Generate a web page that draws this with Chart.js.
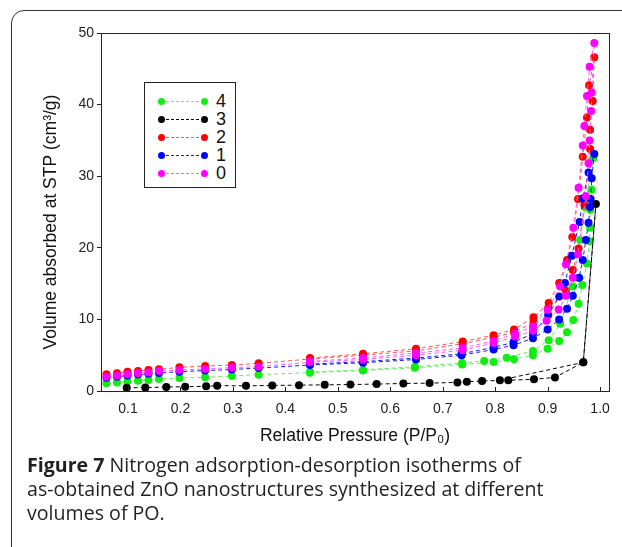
<!DOCTYPE html>
<html>
<head>
<meta charset="utf-8">
<script src="https://cdn.jsdelivr.net/npm/chart.js@4.4.1/dist/chart.umd.min.js"></script>
<style>
  html, body { margin: 0; padding: 0; background: #fff; }
  body { width: 622px; height: 547px; position: relative; overflow: hidden; }
  #frame {
    position: absolute; left: 11px; top: 10px; width: 700px; height: 600px;
    border: 1.5px solid #333; border-radius: 13px; box-sizing: border-box;
  }
  #wrap { position: absolute; left: 0; top: 0; width: 622px; height: 460px; }
  #legend {
    position: absolute; left: 144px; top: 82px; width: 92px; height: 106px;
    border: 1px solid #222; background: #fff; box-sizing: border-box;
    font-family: "Liberation Sans", Arial, sans-serif; font-size: 18px; color: #111;
  }
  .row { position: absolute; left: 0; height: 18px; width: 100%; }
  .dot { position: absolute; top: 6px; width: 7px; height: 7px; border-radius: 50%; }
  .dash { position: absolute; top: 9px; left: 21px; width: 38px; height: 0; border-top: 1px dashed; }
  .lab { position: absolute; left: 71px; top: -1px; line-height: 20px; }
  #caption {
    position: absolute; left: 27px; top: 453px; width: 590px; white-space: nowrap;
    font-family: "Open Sans", "Noto Sans", sans-serif; font-size: 19.6px; line-height: 24px;
    color: #231f20;
  }
  #caption b { font-weight: 700; }
</style>
</head>
<body>
<div id="frame"></div>
<div id="wrap"><canvas id="chart"></canvas></div>
<div id="legend"></div>
<div id="caption"><b>Figure 7</b> Nitrogen adsorption-desorption isotherms of<br>as-obtained ZnO nanostructures synthesized at different<br>volumes of PO.</div>
<script>
/* sample labels (volume of PO) and colours */
const SERIES_NAMES = ['4', '3', '2', '1', '0'];
const DOT_COLORS  = ['#10ee10', '#000000', '#ff0000', '#0000ff', '#ff00ff'];
const LINE_COLORS = ['#66ee66', '#000000', '#ff5555', '#1a1aff', '#ff5cff'];

/* ── data: adsorption branch then desorption branch ─────────── */

// sample 4 (green)
const x4 = [0.059, 0.079, 0.099, 0.119, 0.139, 0.159, 0.198, 0.247, 0.298, 0.349, 0.447, 0.548, 0.647, 0.737, 0.797, 0.836, 0.872, 0.900, 0.922, 0.937, 0.949, 0.959, 0.966, 0.975, 0.980, 0.981, 0.981, 0.984, 0.987,
            0.971, 0.962, 0.948, 0.924, 0.902, 0.872, 0.822, 0.779, 0.737, 0.647, 0.548, 0.447];
const y4 = [1.07, 1.2, 1.35, 1.44, 1.54, 1.68, 1.82, 1.91, 2.09, 2.28, 2.56, 2.85, 3.25, 3.7, 4.05, 4.45, 5.0, 5.9, 7.0, 8.2, 9.9, 12.2, 14.8, 17.8, 20.9, 22.8, 25.3, 28.1, 32.5,
            25.7, 21.1, 14.6, 9.4, 7.1, 5.6, 4.66, 4.19, 3.9, 3.4, 2.95, 2.65];

// sample 3 (black)
const x3 = [0.0975, 0.133, 0.173, 0.209, 0.249, 0.270, 0.325, 0.375, 0.426, 0.475, 0.524, 0.574, 0.625, 0.675, 0.728, 0.746, 0.775, 0.825, 0.874, 0.914, 0.968, 0.992,
            0.968, 0.809];
const y3 = [0.45, 0.48, 0.55, 0.6, 0.65, 0.75, 0.72, 0.78, 0.82, 0.86, 0.9, 0.97, 1.05, 1.1, 1.2, 1.3, 1.4, 1.5, 1.63, 1.9, 4.0, 26.1,
            4.0, 1.5];

// sample 2 (red)
const x2 = [0.059, 0.079, 0.099, 0.119, 0.139, 0.159, 0.198, 0.247, 0.298, 0.349, 0.447, 0.548, 0.649, 0.738, 0.797, 0.836, 0.873, 0.901, 0.935, 0.948, 0.959, 0.970, 0.981, 0.981, 0.986, 0.989,
            0.979, 0.975, 0.967, 0.958, 0.947, 0.937, 0.922, 0.902, 0.873, 0.836, 0.797, 0.738, 0.649, 0.548, 0.447];
const y2 = [2.33, 2.47, 2.7, 2.79, 2.93, 3.03, 3.3, 3.49, 3.63, 3.86, 4.47, 5.0, 5.6, 6.6, 7.5, 8.2, 9.6, 11.6, 14.0, 16.9, 19.9, 26.0, 33.8, 36.5, 40.5, 46.6,
            42.7, 38.2, 32.7, 26.8, 21.5, 18.3, 15.1, 12.3, 10.3, 8.6, 7.8, 6.9, 5.9, 5.2, 4.6];

// sample 1 (blue)
const x1 = [0.059, 0.079, 0.099, 0.119, 0.139, 0.159, 0.198, 0.247, 0.298, 0.349, 0.447, 0.548, 0.649, 0.736, 0.797, 0.835, 0.872, 0.900, 0.922, 0.937, 0.948, 0.960, 0.967, 0.973, 0.978, 0.981, 0.982, 0.984, 0.989,
            0.978, 0.967, 0.961, 0.946, 0.933, 0.922, 0.901, 0.872, 0.835, 0.797, 0.736, 0.649, 0.548, 0.447];
const y1 = [1.86, 2.0, 2.15, 2.3, 2.4, 2.5, 2.7, 2.85, 3.0, 3.2, 3.63, 3.95, 4.4, 5.0, 5.8, 6.4, 7.36, 8.6, 10.0, 11.5, 13.3, 15.8, 18.3, 21.1, 23.5, 25.7, 26.8, 29.7, 33.1,
            30.5, 26.9, 23.6, 18.9, 15.1, 13.2, 10.6, 8.0, 6.8, 6.1, 5.2, 4.6, 4.1, 3.75];

// sample 0 (magenta)
const x0 = [0.059, 0.079, 0.099, 0.119, 0.139, 0.159, 0.198, 0.247, 0.298, 0.349, 0.447, 0.548, 0.649, 0.738, 0.797, 0.838, 0.872, 0.898, 0.921, 0.935, 0.948, 0.958, 0.973, 0.978, 0.980, 0.983, 0.984, 0.989,
            0.980, 0.975, 0.970, 0.967, 0.959, 0.949, 0.935, 0.924, 0.900, 0.872, 0.838, 0.797, 0.738, 0.649, 0.548, 0.447];
const y0 = [2.0, 2.14, 2.33, 2.47, 2.6, 2.79, 2.93, 3.07, 3.26, 3.4, 4.0, 4.4, 5.0, 5.7, 6.7, 7.6, 8.4, 9.8, 11.4, 13.3, 15.8, 19.1, 27.2, 31.8, 35.0, 39.1, 41.7, 48.6,
            45.3, 41.2, 37.0, 34.3, 28.4, 22.8, 17.7, 14.6, 11.3, 9.0, 8.0, 7.0, 6.0, 5.3, 4.6, 4.15];

const X_TICKS = [0.1, 0.2, 0.3, 0.4, 0.5, 0.6, 0.7, 0.8, 0.9, 1.0];
const Y_TICKS = [0, 10, 20, 30, 40, 50];
const Y_TITLE = 'Volume absorbed at STP (cm\u00b3/g)';
const X_TITLE = 'Relative Pressure (P/P\u2080)';

const SERIES_X = [x4, x3, x2, x1, x0];
const SERIES_Y = [y4, y3, y2, y1, y0];

/* ── helpers ──────────────────────────────────────────────────── */

function points(xs, ys) {
  return xs.map((x, i) => ({ x: x, y: ys[i] }));
}

function buildLegend() {
  const box = document.getElementById('legend');
  SERIES_NAMES.forEach((name, i) => {
    const row = document.createElement('div');
    row.className = 'row';
    row.style.top = (9 + i * 18) + 'px';
    row.innerHTML =
      `<span class="dot" style="left:13px;background:${DOT_COLORS[i]}"></span>` +
      `<span class="dash" style="border-color:${LINE_COLORS[i]}"></span>` +
      `<span class="dot" style="left:56px;background:${DOT_COLORS[i]}"></span>` +
      `<span class="lab">${name}</span>`;
    box.appendChild(row);
  });
}

const FONT = '"Liberation Sans", Arial, sans-serif';

/* frame round the plot area, inward x ticks, rotated y title */
const framePlugin = {
  id: 'frame',
  afterDraw(chart) {
    const { ctx, chartArea: a, scales } = chart;
    ctx.save();
    ctx.strokeStyle = '#222';
    ctx.lineWidth = 1;
    ctx.strokeRect(a.left + 0.5, a.top + 0.5, a.right - a.left, a.bottom - a.top);
    ctx.beginPath();
    X_TICKS.forEach(v => {
      const px = Math.round(scales.x.getPixelForValue(v)) + 0.5;
      ctx.moveTo(px, a.bottom);
      ctx.lineTo(px, a.bottom - 4);
    });
    ctx.stroke();

    ctx.translate(51, 222);
    ctx.rotate(-Math.PI / 2);
    ctx.fillStyle = '#111';
    ctx.font = '17.5px ' + FONT;
    ctx.textAlign = 'center';
    ctx.textBaseline = 'middle';
    ctx.fillText(Y_TITLE, 0, 0);
    ctx.restore();
  }
};

const datasets = SERIES_NAMES.map((name, i) => ({
  label: name,
  data: points(SERIES_X[i], SERIES_Y[i]),
  showLine: true,
  borderColor: LINE_COLORS[i],
  borderWidth: 1,
  borderDash: [4, 3],
  pointRadius: 4,
  pointBorderWidth: 0,
  pointBackgroundColor: DOT_COLORS[i],
  pointBorderColor: DOT_COLORS[i],
  order: SERIES_NAMES.length - i,
}));

buildLegend();

new Chart(document.getElementById('chart'), {
  type: 'scatter',
  data: { datasets },
  plugins: [framePlugin],
  options: {
    responsive: true,
    maintainAspectRatio: false,
    animation: false,
    layout: { padding: { top: 33, right: 13, left: 0, bottom: 0 } },
    plugins: { legend: { display: false }, tooltip: { enabled: false } },
    scales: {
      x: {
        type: 'linear',
        min: 0.0485,
        max: 1.017,
        afterFit(s) { s.height = 69; },
        afterBuildTicks(s) { s.ticks = X_TICKS.map(v => ({ value: v })); },
        border: { display: false },
        grid: { display: false, drawTicks: false },
        ticks: {
          color: '#222', font: { family: FONT, size: 14 }, padding: 10,
          maxRotation: 0, callback: v => v.toFixed(1),
        },
        title: {
          display: true, text: X_TITLE, color: '#111',
          font: { family: FONT, size: 17.5 }, padding: { top: 0, bottom: 13 },
        },
      },
      y: {
        type: 'linear',
        min: 0,
        max: 50,
        afterFit(s) { s.width = 101; },
        afterBuildTicks(s) { s.ticks = Y_TICKS.map(v => ({ value: v })); },
        border: { display: false },
        grid: { drawOnChartArea: false, drawTicks: true, tickLength: 4, color: '#222' },
        ticks: { color: '#222', font: { family: FONT, size: 14 }, padding: 3 },
        title: { display: false },
      },
    },
  },
});
</script>
</body>
</html>
